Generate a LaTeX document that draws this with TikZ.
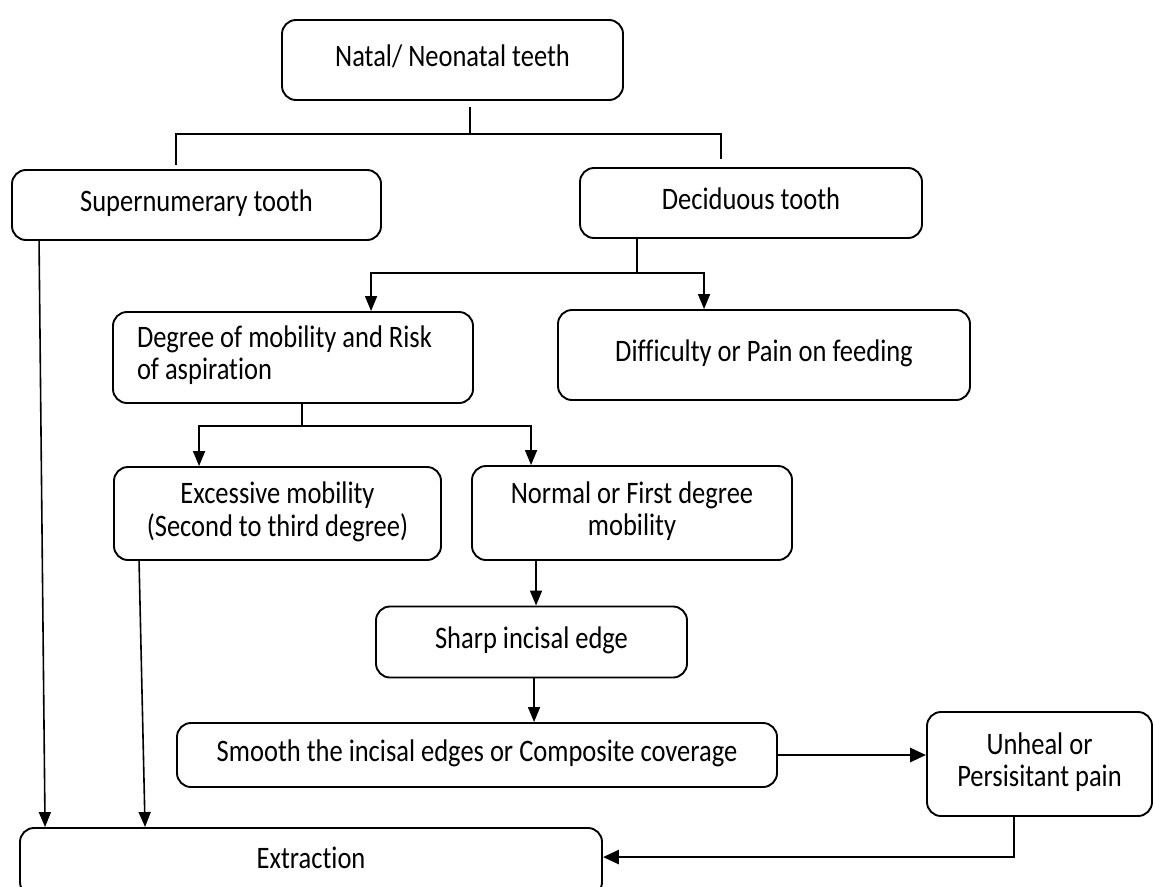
\documentclass[tikz,border=0pt]{standalone}
\usepackage{fontspec}
\setmainfont{Carlito}[Ligatures=CommonOff]
\usetikzlibrary{arrows.meta,calc}
\newcommand\tx[2][c]{\scalebox{1}[1.18]{\begin{tabular}{@{}#1@{}}#2\end{tabular}}}
\begin{document}
\begin{tikzpicture}[x=1pt,y=-1pt,
  box/.style={draw, line width=1.9pt, rounded corners=14pt, align=center,
    font=\fontsize{26.5}{27}\selectfont, inner sep=0pt},
  ln/.style={line width=1.6pt},
  arr/.style={line width=1.6pt, -{Triangle[length=15pt,width=12pt]}},
  thk/.style={line width=2.8pt, -{Triangle[length=16pt,width=14pt]}}]
\clip (0,0) rectangle (1153,886);
\fill[white] (0,0) rectangle (1153,886);
% boxes
\node[box, minimum width=341, minimum height=80] (natal) at (452.5,60) {\tx{Natal/ Neonatal teeth}};
\node[box, minimum width=369, minimum height=70] (sup) at (196.5,205) {\tx{Supernumerary tooth}};
\node[box, minimum width=342, minimum height=70] (dec) at (751,203) {\tx{Deciduous tooth}};
\node[box, minimum width=360, minimum height=91] (deg) at (293,357.5) {\makebox[312pt][l]{\raisebox{-5pt}{\tx[l]{Degree of mobility and Risk\\of aspiration}}}};
\node[box, minimum width=412, minimum height=90] (dif) at (764,355) {\tx{Difficulty or Pain on feeding}};
\node[box, minimum width=327, minimum height=93] (exc) at (277.5,513.5) {\tx{Excessive mobility\\(Second to third degree)}};
\node[box, minimum width=320, minimum height=94] (nor) at (632,513) {\tx{Normal or First degree\\mobility}};
\node[box, minimum width=311, minimum height=71] (sharp) at (531.5,642) {\tx{Sharp incisal edge}};
\node[box, minimum width=600, minimum height=64] (smooth) at (477,755) {\tx{Smooth the incisal edges or Composite coverage}};
\node[box, minimum width=225, minimum height=104] (unheal) at (1039.5,764) {\tx{Unheal or\\Persisitant pain}};
\node[box, minimum width=582, minimum height=68] (ext) at (311,862) {\tx{Extraction}};
% connectors
\draw[ln] ($(natal.south)+(17.5,6)$) -- ++(0,28);
\draw[ln] ($(sup.north west)+(165,-4)$) |- ($(dec.north west)+(142,-33)$) -- ++(0,25);
\draw[ln] ($(dec.south west)+(58,0)$) -- ++(0,34) coordinate (dj);
\draw[arr] (dj) -| ($(deg.north west)+(259,0)$);
\draw[arr] (dj) -| ($(dif.north west)+(147,0)$);
\draw[ln] ($(deg.south west)+(190,0)$) -- ++(0,22) coordinate (gj);
\draw[arr] (gj) -| ($(exc.north west)+(86,0)$);
\draw[arr] (gj) -| ($(nor.north west)+(60,0)$);
\draw[arr] ($(nor.south west)+(65,0)$) -- ($(sharp.north west)+(161,0)$);
\draw[arr] ($(sharp.south west)+(159,0)$) -- ($(smooth.north west)+(358,0)$);
\draw[thk] (smooth.east) -- (smooth.east -| unheal.west);
\draw[thk] ($(unheal.south west)+(88,0)$) |- ($(ext.north east)+(0,30)$);
\draw[arr] ($(sup.south west)+(28,0)$) -- ($(ext.north west)+(26,0)$);
\draw[arr] ($(exc.south west)+(26,0)$) -- ($(ext.north west)+(126,0)$);
\end{tikzpicture}
\end{document}
